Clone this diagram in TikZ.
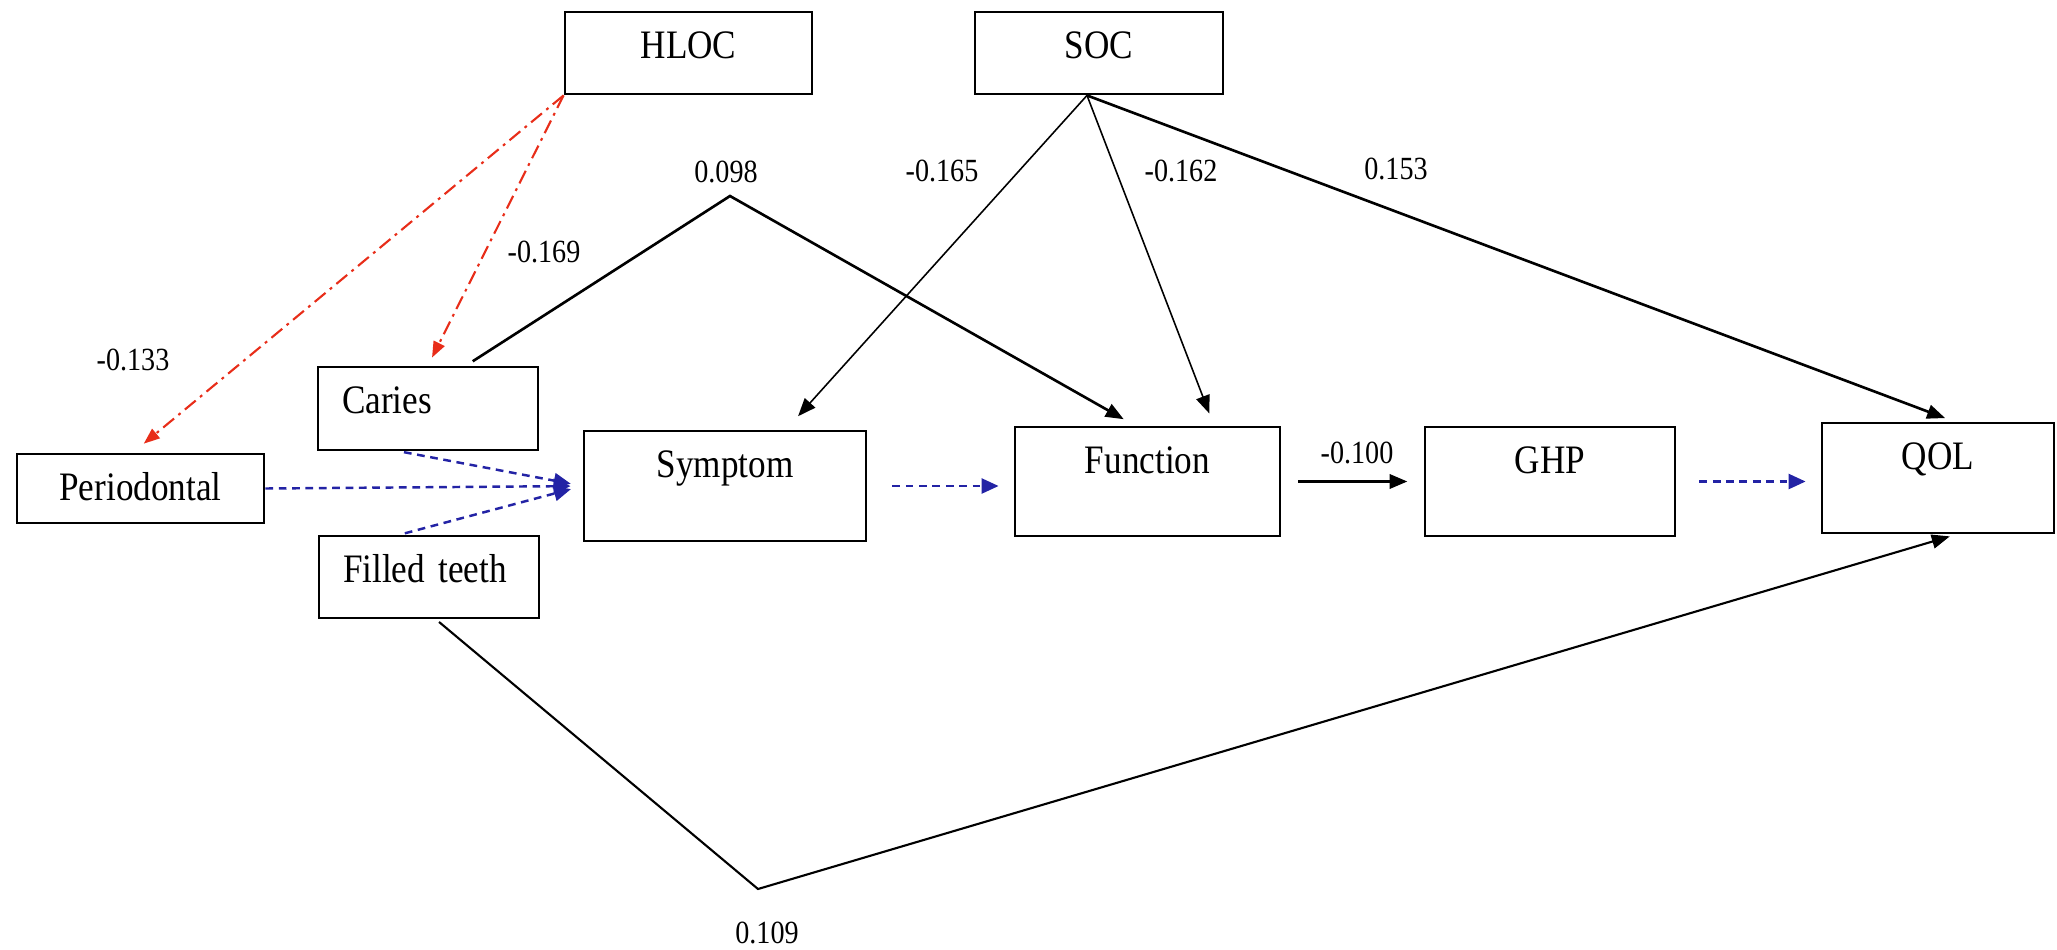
\documentclass[tikz,border=0pt]{standalone}
\usepackage{fontspec}
\setmainfont{Liberation Serif}[FakeStretch=0.87]
\usepackage{tikz}
\usetikzlibrary{arrows.meta, positioning}
\definecolor{pathred}{RGB}{232,45,25}
\definecolor{pathblue}{RGB}{35,35,165}

\begin{document}
\begin{tikzpicture}[
  vbox/.style={rectangle, draw=black, line width=0.8pt, inner xsep=0pt, inner ysep=0pt,
    text height=0.46cm, text depth=#1, font=\fontsize{11.5}{13}\selectfont},
  lbox/.style={vbox=#1, inner xsep=0.24cm, text width=1.72cm, align=left},
  lbl/.style={font=\fontsize{9.2}{11}\selectfont, inner sep=1pt},
  redarr/.style={-{Triangle[length=0.16cm,width=0.12cm]}, pathred, line width=0.6pt,
    dash pattern=on 4pt off 1.6pt on 0.8pt off 1.6pt},
  bluearr/.style={-{Triangle[length=0.17cm,width=0.15cm]}, pathblue, line width=0.7pt,
    dash pattern=on 2.2pt off 1.6pt},
  arr/.style={-{Triangle[length=0.18cm,width=0.14cm]}, black, line width=0.6pt},
  thinarr/.style={arr, line width=0.45pt},
]
\useasboundingbox (0,0) rectangle (20.57,-9.49);

% boxes
\node[vbox=0.36cm, minimum width=2.47cm] (hloc) at (6.885,-0.53) {HLOC};
\node[vbox=0.36cm, minimum width=2.48cm] (soc) at (10.99,-0.53) {SOC};
\node[lbox=0.37cm] (caries) at (4.28,-4.085) {Caries};
\node[vbox=0.23cm, minimum width=2.47cm] (periodontal) at (1.405,-4.885) {Periodontal};
\node[lbox=0.36cm] (filled) at (4.29,-5.77) {Filled teeth};
\node[vbox=0.64cm, minimum width=2.82cm] (symptom) at (7.25,-4.86) {Symptom};
\node[vbox=0.63cm, minimum width=2.65cm] (function) at (11.475,-4.815) {Function};
\node[vbox=0.63cm, minimum width=2.50cm] (ghp) at (15.50,-4.815) {GHP};
\node[vbox=0.64cm, minimum width=2.32cm] (qol) at (19.38,-4.78) {QOL};

% bends
\coordinate (v1) at (7.30,-1.96);
\coordinate (v2) at (7.58,-8.89);

% coefficients
\node[lbl] (c133) at (1.33,-3.60) {-0.133};
\node[lbl] (c169) at (5.44,-2.52) {-0.169};
\node[lbl] (c098) at (7.26,-1.72) {0.098};
\node[lbl] (c165) at (9.42,-1.71) {-0.165};
\node[lbl] (c162) at (11.81,-1.71) {-0.162};
\node[lbl] (c153) at (13.96,-1.69) {0.153};
\node[lbl] (c100) at (13.57,-4.53) {-0.100};
\node[lbl] (c109) at (7.67,-9.33) {0.109};

% HLOC
\draw[redarr, shorten >=0.14cm] (hloc.south west) -- ([xshift=-0.075cm]periodontal.north);
\draw[redarr, shorten >=0.09cm] (hloc.south west) -- (caries.north);

% into Symptom
\draw[bluearr, shorten >=0.12cm] (periodontal.east) -- (symptom.west);
\draw[bluearr, shorten <=0.04cm, shorten >=0.12cm] ([xshift=-0.28cm]caries.south) -- (symptom.west);
\draw[bluearr, shorten <=0.05cm, shorten >=0.12cm] ([xshift=-0.29cm]filled.north) -- (symptom.west);

% chain
\draw[bluearr, shorten <=0.25cm, shorten >=0.15cm] (symptom.east) -- (symptom.east -| function.west);
\draw[arr, line width=1pt, shorten <=0.17cm, shorten >=0.16cm] (function.east) -- (ghp.west);
\draw[bluearr, shorten <=0.23cm, shorten >=0.15cm] (ghp.east) -- (ghp.east -| qol.west);

% SOC
\draw[thinarr, shorten >=0.18cm] ([xshift=-0.12cm]soc.south) -- ([xshift=0.61cm]symptom.north);
\draw[thinarr, shorten >=0.13cm] ([xshift=-0.12cm]soc.south) -- ([xshift=0.665cm]function.north);
\draw[arr, line width=0.75pt, shorten >=0.10cm] ([xshift=-0.12cm]soc.south) -- ([xshift=0.165cm]qol.north);

% Caries -> Function, Filled teeth -> QOL
\draw[arr, line width=0.75pt, shorten <=0.08cm, shorten >=0.13cm]
  ([xshift=0.38cm]caries.north) -- (v1) -- ([xshift=-0.125cm]function.north);
\draw[arr, shorten <=0.04cm, shorten >=0.07cm]
  ([xshift=0.07cm]filled.south) -- (v2) -- ([xshift=0.185cm]qol.south);

\end{tikzpicture}
\end{document}
